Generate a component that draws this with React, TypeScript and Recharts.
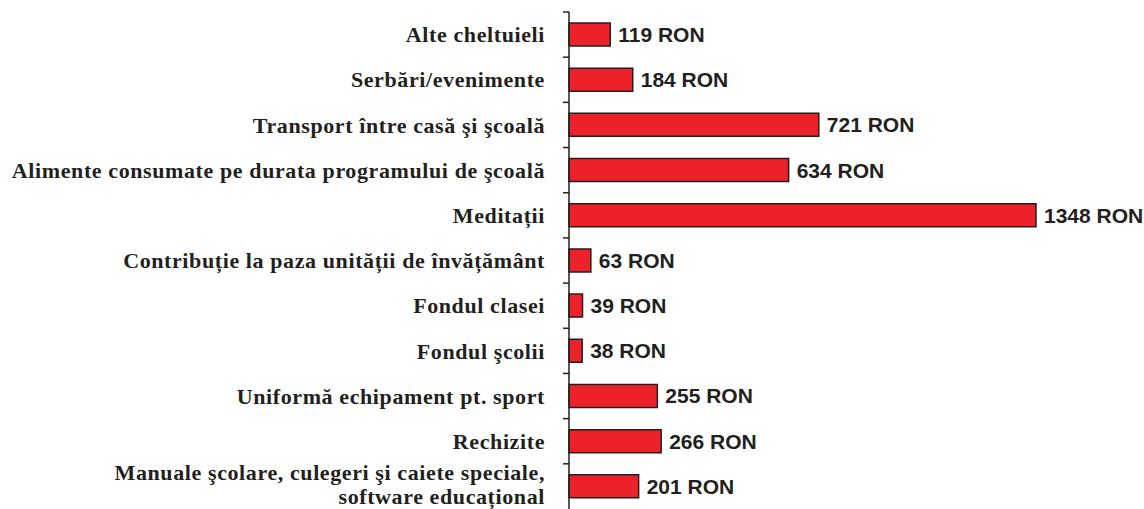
import { BarChart, Bar, XAxis, YAxis, LabelList } from "recharts";

const CATEGORIES = [
  "Alte cheltuieli",
  "Serbări/evenimente",
  "Transport între casă şi şcoală",
  "Alimente consumate pe durata programului de şcoală",
  "Meditații",
  "Contribuție la paza unității de învățământ",
  "Fondul clasei",
  "Fondul şcolii",
  "Uniformă echipament pt. sport",
  "Rechizite",
  "Manuale şcolare, culegeri şi caiete speciale,\nsoftware educațional",
];

const VALUES = [119, 184, 721, 634, 1348, 63, 39, 38, 255, 266, 201];

const data = CATEGORIES.map((name, i) => ({ name, value: VALUES[i] }));

const INK = "#231f20";
const RED = "#ed2129";

// eslint-disable-next-line @typescript-eslint/no-explicit-any
function CategoryTick({ x, y, payload }: any) {
  const lines = String(payload.value).split("\n");
  const half = payload.offset ?? 0;
  const lineH = 24;
  // two-line labels sit a touch higher so the last line stays inside the frame
  const shift = lines.length > 1 ? -2 : 0;
  return (
    <g>
      <line x1={x + 18} x2={x + 24} y1={y - half} y2={y - half} stroke={INK} strokeWidth={1.5} />
      <text
        textAnchor="end"
        fill={INK}
        style={{ fontFamily: "'Liberation Serif', serif", fontWeight: 700, fontSize: 22, letterSpacing: 0.6 }}
      >
        {lines.map((l, i) => (
          <tspan key={i} x={x} y={y + shift + (i - (lines.length - 1) / 2) * lineH} dy="0.35em">
            {l}
          </tspan>
        ))}
      </text>
    </g>
  );
}

export default function App() {
  return (
    <div style={{ position: "absolute", left: 0, top: 0, background: "#fff" }}>
      <BarChart
        width={1144}
        height={509}
        data={data}
        layout="vertical"
        margin={{ top: 12, right: 108, bottom: 0, left: 0 }}
      >
        <XAxis type="number" domain={[0, 1348]} hide />
        <YAxis
          type="category"
          dataKey="name"
          width={569}
          axisLine={{ stroke: INK, strokeWidth: 1.5 }}
          tickLine={false}
          tickSize={6}
          tickMargin={18}
          interval={0}
          tick={<CategoryTick />}
        />
        <Bar
          dataKey="value"
          fill={RED}
          stroke={INK}
          strokeWidth={1.5}
          barSize={23}
          isAnimationActive={false}
        >
          <LabelList
            dataKey="value"
            position="right"
            offset={8}
            formatter={(v: number) => `${v} RON`}
            style={{ fontFamily: "'Liberation Sans', Arial, sans-serif", fontWeight: 700, fontSize: 21, fill: INK }}
          />
        </Bar>
      </BarChart>
    </div>
  );
}
